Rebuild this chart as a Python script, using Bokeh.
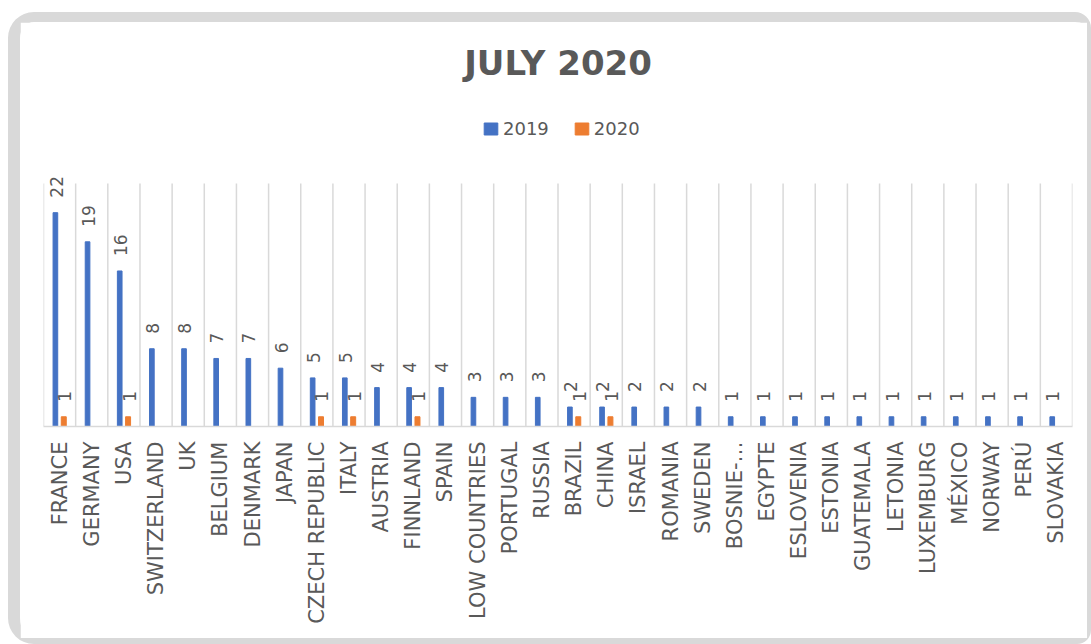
from math import pi
from bokeh.plotting import figure
from bokeh.models import (ColumnDataSource, FactorRange, Range1d,
                          Legend, LegendItem, LabelSet)
from bokeh.core.properties import value
from bokeh.transform import dodge
from bokeh.embed import file_html
from bokeh.resources import INLINE

title_text = "JULY 2020"
series_names = ["2019", "2020"]
categories = ["FRANCE", "GERMANY", "USA", "SWITZERLAND", "UK", "BELGIUM", "DENMARK",
              "JAPAN", "CZECH REPUBLIC", "ITALY", "AUSTRIA", "FINNLAND", "SPAIN",
              "LOW COUNTRIES", "PORTUGAL", "RUSSIA", "BRAZIL", "CHINA", "ISRAEL",
              "ROMANIA", "SWEDEN", "BOSNIE-…", "EGYPTE", "ESLOVENIA", "ESTONIA",
              "GUATEMALA", "LETONIA", "LUXEMBURG", "MÉXICO", "NORWAY", "PERÚ", "SLOVAKIA"]
values_2019 = [22, 19, 16, 8, 8, 7, 7, 6, 5, 5, 4, 4, 4, 3, 3, 3, 2, 2, 2, 2, 2,
               1, 1, 1, 1, 1, 1, 1, 1, 1, 1, 1]
values_2020 = [1, None, 1, None, None, None, None, None, 1, 1, None, 1, None, None,
               None, None, 1, 1, None, None, None, None, None, None, None, None,
               None, None, None, None, None, None]
axis_max = 25

BLUE = "#4472C4"
ORANGE = "#ED7D31"
GREY_TEXT = "#595959"
GREY_LINE = "#d9d9d9"

src19 = ColumnDataSource(dict(cat=categories, val=values_2019,
                              lab=[str(v) for v in values_2019]))
c20 = [c for c, v in zip(categories, values_2020) if v is not None]
v20 = [v for v in values_2020 if v is not None]
src20 = ColumnDataSource(dict(cat=c20, val=v20, lab=[str(v) for v in v20]))

# plot area: 243 px for the 0..25 value axis, extra headroom above for labels/legend
PX_PER_UNIT = 243 / axis_max
FRAME_H = 326
p = figure(x_range=FactorRange(*categories),
           y_range=Range1d(0, FRAME_H / PX_PER_UNIT),
           frame_width=1029, frame_height=FRAME_H,
           output_backend="svg", toolbar_location=None,
           y_axis_location=None, min_border_left=23, min_border_right=15,
           min_border_top=78, min_border_bottom=212,
           styles={"border-style": "solid", "border-color": GREY_LINE,
                   "border-width": "10px 4px 6px 12px",
                   "border-radius": "26px 16px 14px 26px",
                   "margin-left": "8px", "margin-top": "12px"})
p.outline_line_color = None
p.background_fill_color = "white"
p.border_fill_color = "white"
p.xgrid.grid_line_color = None
p.ygrid.grid_line_color = None

# category separators (value-axis height only)
bounds = list(range(len(categories) + 1))
p.segment(x0=bounds, y0=[0] * len(bounds), x1=bounds, y1=[axis_max] * len(bounds),
          line_color=GREY_LINE, line_width=1.5)

r19 = p.vbar(x=dodge("cat", -0.13, range=p.x_range), top="val", width=0.145,
             source=src19, color=BLUE)
r20 = p.vbar(x=dodge("cat", 0.13, range=p.x_range), top="val", width=0.155,
             source=src20, color=ORANGE)

for src, off in ((src19, -0.11), (src20, 0.16)):
    ls = LabelSet(x=dodge("cat", off, range=p.x_range), y="val", text="lab",
                  source=src, angle=90, angle_units="deg", y_offset=15,
                  text_align="left", text_baseline="middle",
                  text_font=value("DejaVu Sans"), text_font_size="17px",
                  text_color=GREY_TEXT)
    p.add_layout(ls)

ax = p.xaxis[0]
ax.major_label_orientation = pi / 2
ax.major_label_text_font = "DejaVu Sans"
ax.major_label_text_font_size = "21px"
ax.major_label_text_color = GREY_TEXT
ax.major_label_standoff = 15
ax.major_tick_line_color = None
ax.minor_tick_line_color = None
ax.major_tick_out = 0
ax.axis_line_color = GREY_LINE
ax.axis_line_width = 1.5

p.title.text = title_text
p.title.align = "center"
p.title.text_font = "DejaVu Sans"
p.title.text_font_style = "bold"
p.title.text_font_size = "34px"
p.title.text_color = GREY_TEXT
p.title.standoff = 36

legend = Legend(items=[LegendItem(label=series_names[0], renderers=[r19]),
                       LegendItem(label=series_names[1], renderers=[r20])],
                orientation="horizontal", location=(439, 287))
legend.label_text_font = "DejaVu Sans"
legend.label_text_font_size = "18px"
legend.label_text_color = GREY_TEXT
legend.glyph_width = 17
legend.glyph_height = 15
legend.label_standoff = 4
legend.spacing = 24
legend.padding = 0
legend.margin = 0
legend.border_line_color = None
legend.background_fill_alpha = 0
p.add_layout(legend)

open("out.html", "w").write(file_html(p, INLINE))
